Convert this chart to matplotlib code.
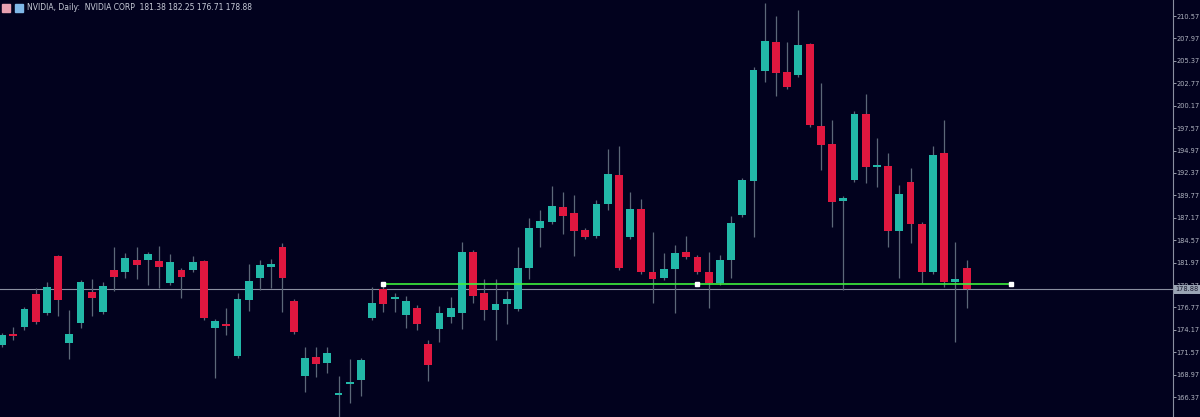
import matplotlib
matplotlib.use("Agg")
import matplotlib.pyplot as plt
from matplotlib.patches import Rectangle

opens = [172.41,173.5,174.50,178.33,176.12,182.73,172.64,174.96,178.56,176.24,
         181.11,180.88,182.27,182.27,182.15,179.60,181.11,181.11,182.15,174.38,
         174.7,171.13,177.63,180.18,181.5,183.78,177.51,168.81,171.02,170.32,
         166.6,167.9,168.35,175.54,178.91,177.7,175.89,176.70,172.53,174.27,
         175.66,176.12,183.20,178.44,176.47,177.17,176.59,181.34,185.98,186.68,
         188.42,187.72,185.75,185.05,188.77,192.13,184.94,188.19,180.88,180.18,
         181.23,183.20,182.62,180.88,179.60,182.27,187.49,191.43,204.19,207.56,
         204.08,203.73,207.33,197.81,195.73,189.11,191.55,199.21,193.06,193.17,
         185.63,191.32,186.45,180.88,194.68,179.72,181.38]
highs = [173.8,174.50,176.8,179.03,179.72,182.9,176.47,180.0,180.07,179.72,
         183.78,183.08,183.78,183.2,183.89,182.97,181.4,182.73,182.3,175.4,
         176.70,178.44,181.81,182.27,182.39,184.24,177.7,172.18,172.18,172.18,
         168.81,170.79,170.9,179.14,179.60,178.44,178.09,177.05,173.03,176.93,
         177.98,184.36,183.4,180.07,180.07,178.67,183.78,187.14,188.07,190.85,
         190.16,189.81,186.0,189.23,195.15,195.49,190.16,189.35,185.52,183.08,
         184.01,185.05,182.8,183.20,182.85,187.37,191.8,204.66,212.08,210.57,
         207.56,211.27,207.5,202.80,198.51,189.7,199.5,201.53,196.42,194.68,
         190.97,192.94,186.7,195.49,198.51,184.36,182.25]
lows = [172.2,173.03,174.15,174.8,175.9,175.77,170.79,174.38,175.77,176.0,
        178.67,180.18,180.07,179.37,179.03,179.37,177.87,180.9,175.3,168.58,
        173.57,170.9,176.35,178.79,179.03,176.24,173.7,166.96,168.70,169.16,
        164.06,165.68,166.49,175.3,176.24,176.24,174.38,174.15,168.23,172.79,
        174.96,174.27,177.28,175.31,172.99,174.85,176.4,180.07,183.78,186.4,
        185.29,182.73,184.7,184.8,188.07,181.1,184.7,180.7,177.28,179.9,
        176.12,182.4,180.6,176.70,179.4,180.18,187.3,184.94,202.92,201.29,
        202.1,203.5,197.7,192.71,186.10,178.79,191.3,191.20,190.74,183.78,
        180.18,184.24,179.60,180.6,179.14,172.79,176.71]
closes = [173.57,173.4,176.59,175.08,179.14,177.63,173.69,179.72,177.87,179.25,
          180.30,182.50,181.69,182.97,181.46,182.04,180.30,182.04,175.54,175.19,
          174.61,177.75,179.83,181.69,181.69,180.18,173.92,170.90,170.21,171.48,
          166.73,168.00,170.67,177.28,177.17,177.75,177.51,174.85,170.09,176.12,
          176.70,183.20,178.09,176.47,177.17,177.75,181.34,185.98,186.79,188.53,
          187.37,185.63,184.94,188.77,192.25,181.34,188.19,180.88,180.07,181.23,
          183.08,182.62,180.88,179.60,182.27,186.56,191.55,204.31,207.67,203.96,
          202.34,207.21,197.93,195.61,189.00,189.46,199.21,193.06,193.29,185.63,
          189.93,186.45,180.88,194.45,179.72,180.07,178.88]

tick_prices = [210.57,207.97,205.37,202.77,200.17,197.57,194.97,192.37,189.77,
               187.17,184.57,181.97,179.37,176.77,174.17,171.57,168.97,166.37]
level_price = 179.54
level_points = [34, 62, 90]
last_price = 178.88
title = "NVIDIA, Daily:  NVIDIA CORP  181.38 182.25 176.71 178.88"

BG = "#02021e"
UP = "#22b8a8"
DN = "#e0173f"
WICK = "#5c6878"

fig = plt.figure(figsize=(12, 4.17), dpi=100, facecolor=BG)
ax = fig.add_axes([0, 0, 1173/1200, 1])
ax.set_facecolor(BG)
for i, (o, h, l, c) in enumerate(zip(opens, highs, lows, closes)):
    col = UP if c >= o else DN
    ax.vlines(i, l, h, color=WICK, lw=0.9, zorder=1)
    bot = min(o, c)
    hgt = max(abs(c - o), 0.25)
    ax.add_patch(Rectangle((i - 0.35, bot), 0.7, hgt, color=col, lw=0, zorder=2))

ax.axhline(last_price, color="#8a8fa0", lw=0.8, zorder=0)
ax.plot([level_points[0], level_points[-1]], [level_price]*2, color="#3cf03c", lw=1.2, zorder=3)
ax.plot(level_points, [level_price]*3, 's', color="white", ms=2.5, zorder=4)

ax.set_xlim(-0.18, 104.4)
ax.set_ylim(164.06, 212.43)
ax.yaxis.tick_right()
ax.set_yticks(tick_prices)
ax.set_yticklabels([f"{t:.2f}" for t in tick_prices])
ax.tick_params(axis='y', colors="#b0b4c0", labelsize=4.8, length=2, width=0.6, pad=0.5)
ax.tick_params(axis='x', bottom=False, labelbottom=False)
for s in ["top", "left", "bottom"]:
    ax.spines[s].set_visible(False)
ax.spines["right"].set_color("#8a8fa0")
ax.spines["right"].set_linewidth(0.8)

ax.text(1.002, last_price, f"{last_price:.2f}", transform=ax.get_yaxis_transform(),
        fontsize=4.8, color="#1a1a30", ha="left", va="center",
        bbox=dict(boxstyle="square,pad=0.2", fc="#9aa4b4", ec="none"), zorder=5, clip_on=False)

# header icons and text
fig.patches.append(Rectangle((2/1200, 1-12/417), 8/1200, 8/417, color="#e8a0b0", transform=fig.transFigure))
fig.patches.append(Rectangle((15/1200, 1-12/417), 8/1200, 8/417, color="#80b8e8", transform=fig.transFigure))
fig.text(27/1200, 1-8/417, title, fontsize=5.5, color="#c8ccd8", va="center", ha="left")

fig.savefig("out.png", dpi=100, facecolor=BG)
